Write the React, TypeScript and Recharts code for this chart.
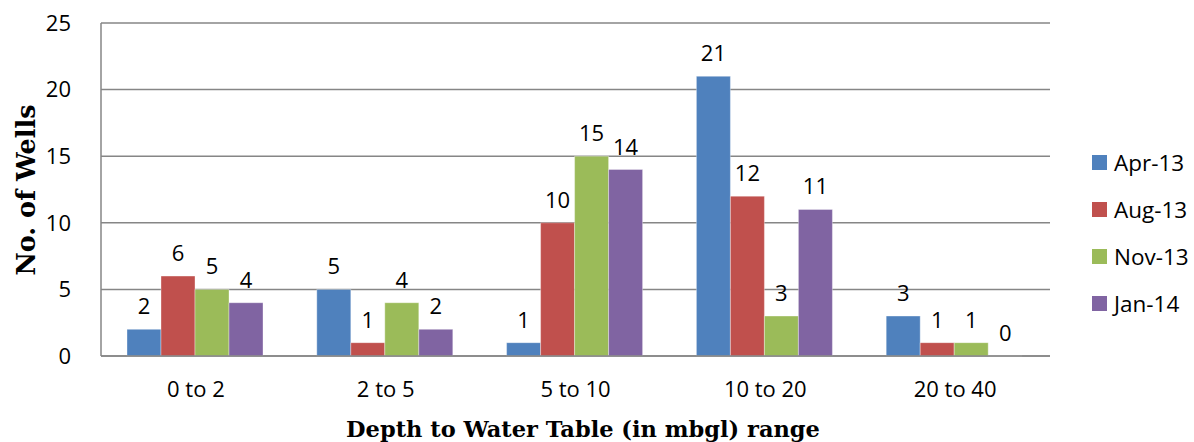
import React from 'react';
import { BarChart, Bar, XAxis, YAxis, CartesianGrid, LabelList, Label } from 'recharts';

const categories = ['0 to 2', '2 to 5', '5 to 10', '10 to 20', '20 to 40'];
const apr13 = [2, 5, 1, 21, 3];
const aug13 = [6, 1, 10, 12, 1];
const nov13 = [5, 4, 15, 3, 1];
const jan14 = [4, 2, 14, 11, 0];
const seriesNames = ['Apr-13', 'Aug-13', 'Nov-13', 'Jan-14'];
const seriesKeys = ['apr13', 'aug13', 'nov13', 'jan14'];
const seriesColors = ['#4F81BD', '#C0504D', '#9BBB59', '#8064A2'];
const yTicks = [0, 5, 10, 15, 20, 25];

const data = categories.map((c, i) => ({
  cat: c,
  apr13: apr13[i],
  aug13: aug13[i],
  nov13: nov13[i],
  jan14: jan14[i],
}));

const FF = 'Open Sans';
const FS = 22;
const tickFont = { fontFamily: FF, fontSize: FS, fill: '#000' };

export default function App() {
  return (
    <div style={{ position: 'absolute', left: 0, top: 0, width: 1194, height: 442, background: '#fff' }}>
      <BarChart
        width={1194}
        height={442}
        data={data}
        margin={{ top: 23, right: 144, bottom: 0, left: 0 }}
        barCategoryGap={26}
        barGap={0}
      >
        <CartesianGrid vertical={false} stroke="#868686" strokeWidth={1.5} />
        <XAxis
          dataKey="cat"
          height={86}
          tickLine={false}
          axisLine={{ stroke: '#868686', strokeWidth: 1.5 }}
          tick={tickFont}
          tickMargin={19}
        >
          <Label
            content={() => (
              <text x={583} y={437} textAnchor="middle" fontFamily="DejaVu Serif" fontWeight="bold" fontSize={22.5} fill="#000">
                Depth to Water Table (in mbgl) range
              </text>
            )}
          />
        </XAxis>
        <YAxis
          width={101}
          domain={[0, 25]}
          ticks={yTicks}
          interval={0}
          tickLine={false}
          axisLine={{ stroke: '#868686', strokeWidth: 1.5 }}
          tick={tickFont}
          tickMargin={24}
        >
          <Label
            content={() => (
              <text
                x={0}
                y={0}
                transform="translate(35,190) rotate(-90)"
                textAnchor="middle"
                fontFamily="DejaVu Serif"
                fontWeight="bold"
                fontSize={25.5}
                fill="#000"
              >
                No. of Wells
              </text>
            )}
          />
        </YAxis>
        {seriesKeys.map((k, i) => (
          <Bar
            key={k}
            dataKey={k}
            name={seriesNames[i]}
            fill={seriesColors[i]}
            stroke="#ffffff"
            strokeOpacity={0.35}
            strokeWidth={1}
            minPointSize={(v: number) => (v === 0 ? 0.01 : 0)}
            isAnimationActive={false}
          >
            <LabelList
              dataKey={k}
              position="top"
              offset={15}
              style={{ fontFamily: FF, fontSize: FS, fill: '#000' }}
            />
          </Bar>
        ))}
      </BarChart>
      <div style={{ position: 'absolute', left: 1092, top: 139 }}>
        {seriesNames.map((n, i) => (
          <div key={n} style={{ display: 'flex', alignItems: 'center', height: 47 }}>
            <div style={{ width: 15, height: 15, background: seriesColors[i], marginRight: 7 }} />
            <span style={{ fontFamily: FF, fontSize: 22.5, color: '#000' }}>{n}</span>
          </div>
        ))}
      </div>
    </div>
  );
}
